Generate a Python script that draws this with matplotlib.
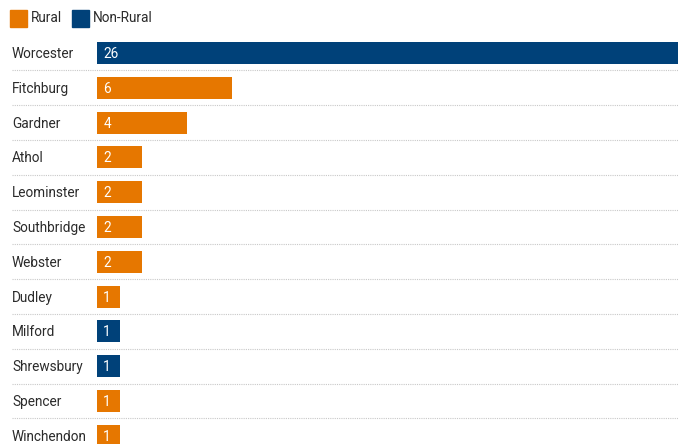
import matplotlib
matplotlib.use("Agg")
import matplotlib.pyplot as plt
from matplotlib.patches import Rectangle
from matplotlib.transforms import blended_transform_factory, offset_copy

towns = ["Worcester", "Fitchburg", "Gardner", "Athol", "Leominster", "Southbridge",
         "Webster", "Dudley", "Milford", "Shrewsbury", "Spencer", "Winchendon"]
counts = [26, 6, 4, 2, 2, 2, 2, 1, 1, 1, 1, 1]
types = ["Non-Rural", "Rural", "Rural", "Rural", "Rural", "Rural",
         "Rural", "Rural", "Non-Rural", "Non-Rural", "Rural", "Rural"]
legend_labels = ["Rural", "Non-Rural"]

colors = {"Rural": "#E67700", "Non-Rural": "#004179"}
plt.rcParams['font.family'] = ['Roboto', 'DejaVu Sans']

W, H = 678, 444
fig = plt.figure(figsize=(W / 100, H / 100), dpi=100)
row_h = 34.8
top_px = 53 - row_h / 2
left_px = 97
ax = fig.add_axes([left_px / W, 0, 1 - left_px / W, (H - top_px) / H])
ax.set_xlim(0, 25.8)
ylo = (H - 53) / row_h
ax.set_ylim(ylo, -0.5)
ax.axis("off")

ys = list(range(len(towns)))
ax.barh(ys, counts, height=0.63, color=[colors[t] for t in types], zorder=2)

fs = 9.8
lab_tr = blended_transform_factory(fig.transFigure, ax.transData)
for y, town, c in zip(ys, towns, counts):
    ax.text(12 / W, y + 0.03, town, transform=lab_tr, ha="left", va="center",
            fontsize=fs, color="#2b2b2b")
    ax.text(0, y + 0.03, str(c), transform=offset_copy(ax.transData, fig=fig, x=4.5, y=0, units="points"),
            ha="left", va="center", fontsize=fs, color="white", zorder=3)

for y in ys[:-1]:
    ax.plot([12 / W, 1], [y + 0.5, y + 0.5], transform=lab_tr, color="#c8c8c8",
            lw=0.8, ls=(0, (1, 1)), clip_on=False, zorder=1)

# legend
lx = 10
for lab in legend_labels:
    fig.patches.append(Rectangle((lx / W, (H - 27) / H), 17 / W, 17 / H,
                                 transform=fig.transFigure, color=colors[lab]))
    t = fig.text((lx + 21) / W, (H - 18.5) / H, lab, ha="left", va="center",
                 fontsize=fs, color="#2b2b2b")
    fig.canvas.draw()
    bb = t.get_window_extent()
    lx = bb.x1 + 10

fig.savefig("out.png", dpi=100)
